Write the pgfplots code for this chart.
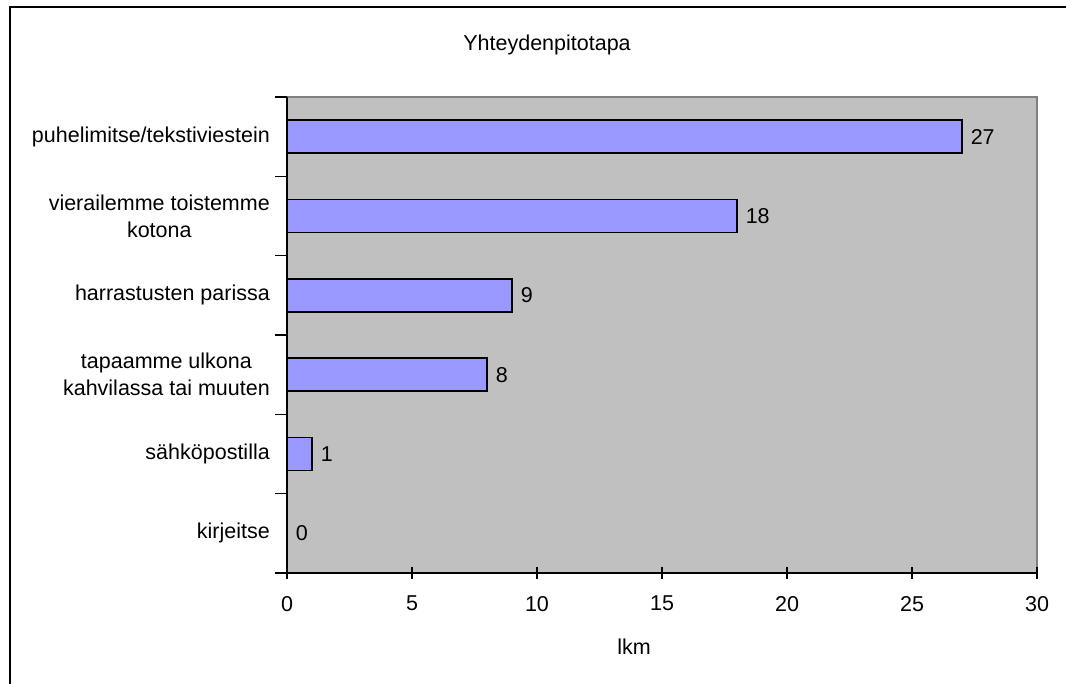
\documentclass[border=0pt]{standalone}
\usepackage{pgfplots}
\pgfplotsset{compat=1.18}
\usepackage{fontspec}
\setmainfont{Liberation Sans}
\definecolor{barc}{HTML}{9999FF}
\definecolor{bgc}{HTML}{C0C0C0}
\definecolor{brd}{HTML}{808080}
\newcommand{\cf}{\fontsize{21.5}{27}\selectfont}
\begin{document}
\begin{tikzpicture}
\begin{axis}[
  at={(287pt,111pt)}, anchor=south west,
  scale only axis, width=750pt, height=476pt,
  xmin=0, xmax=30, ymin=-0.5, ymax=5.5,
  axis lines*=left,
  axis line style={-, black, line width=1.5pt},
  axis background/.style={fill=bgc, draw=brd, line width=1.5pt},
  xtick={0,5,...,30},
  ytick={0,...,5},
  minor ytick={-0.5,0.5,...,5.5},
  major y tick style={draw=none},
  minor y tick style={black, line width=1.2pt},
  x tick style={black, line width=1.2pt},
  tick align=center,
  major tick length=12pt, minor tick length=12pt,
  yticklabels={kirjeitse, sähköpostilla, {tapaamme ulkona\\kahvilassa tai muuten}, harrastusten parissa, {vierailemme toistemme\\kotona}, puhelimitse/tekstiviestein},
  yticklabel style={font=\cf, align=center, anchor=east, inner sep=0pt, xshift=-5pt},
  xticklabel style={font=\cf, inner sep=0pt, yshift=-17pt},
  /pgf/number format/assume math mode=true,
  xbar, bar width=33pt,
  nodes near coords,
  nodes near coords style={font=\cf, anchor=west, inner sep=0pt, xshift=8pt},
  clip=false,
]
\addplot[fill=barc, draw=black, line width=1.5pt] coordinates {
(0,0) (1,1) (8,2) (9,3) (18,4) (27,5)
};
\end{axis}
\draw[black, line width=1.5pt] (10pt,0pt) -- (10pt,677pt) -- (1066pt,677pt);
\node[font=\cf] at (547pt,639pt) {Yhteydenpitotapa};
\node[font=\cf] at (634pt,37pt) {lkm};
\pgfresetboundingbox
\path[use as bounding box] (0,0) rectangle (1066pt,684pt);
\end{tikzpicture}
\end{document}
